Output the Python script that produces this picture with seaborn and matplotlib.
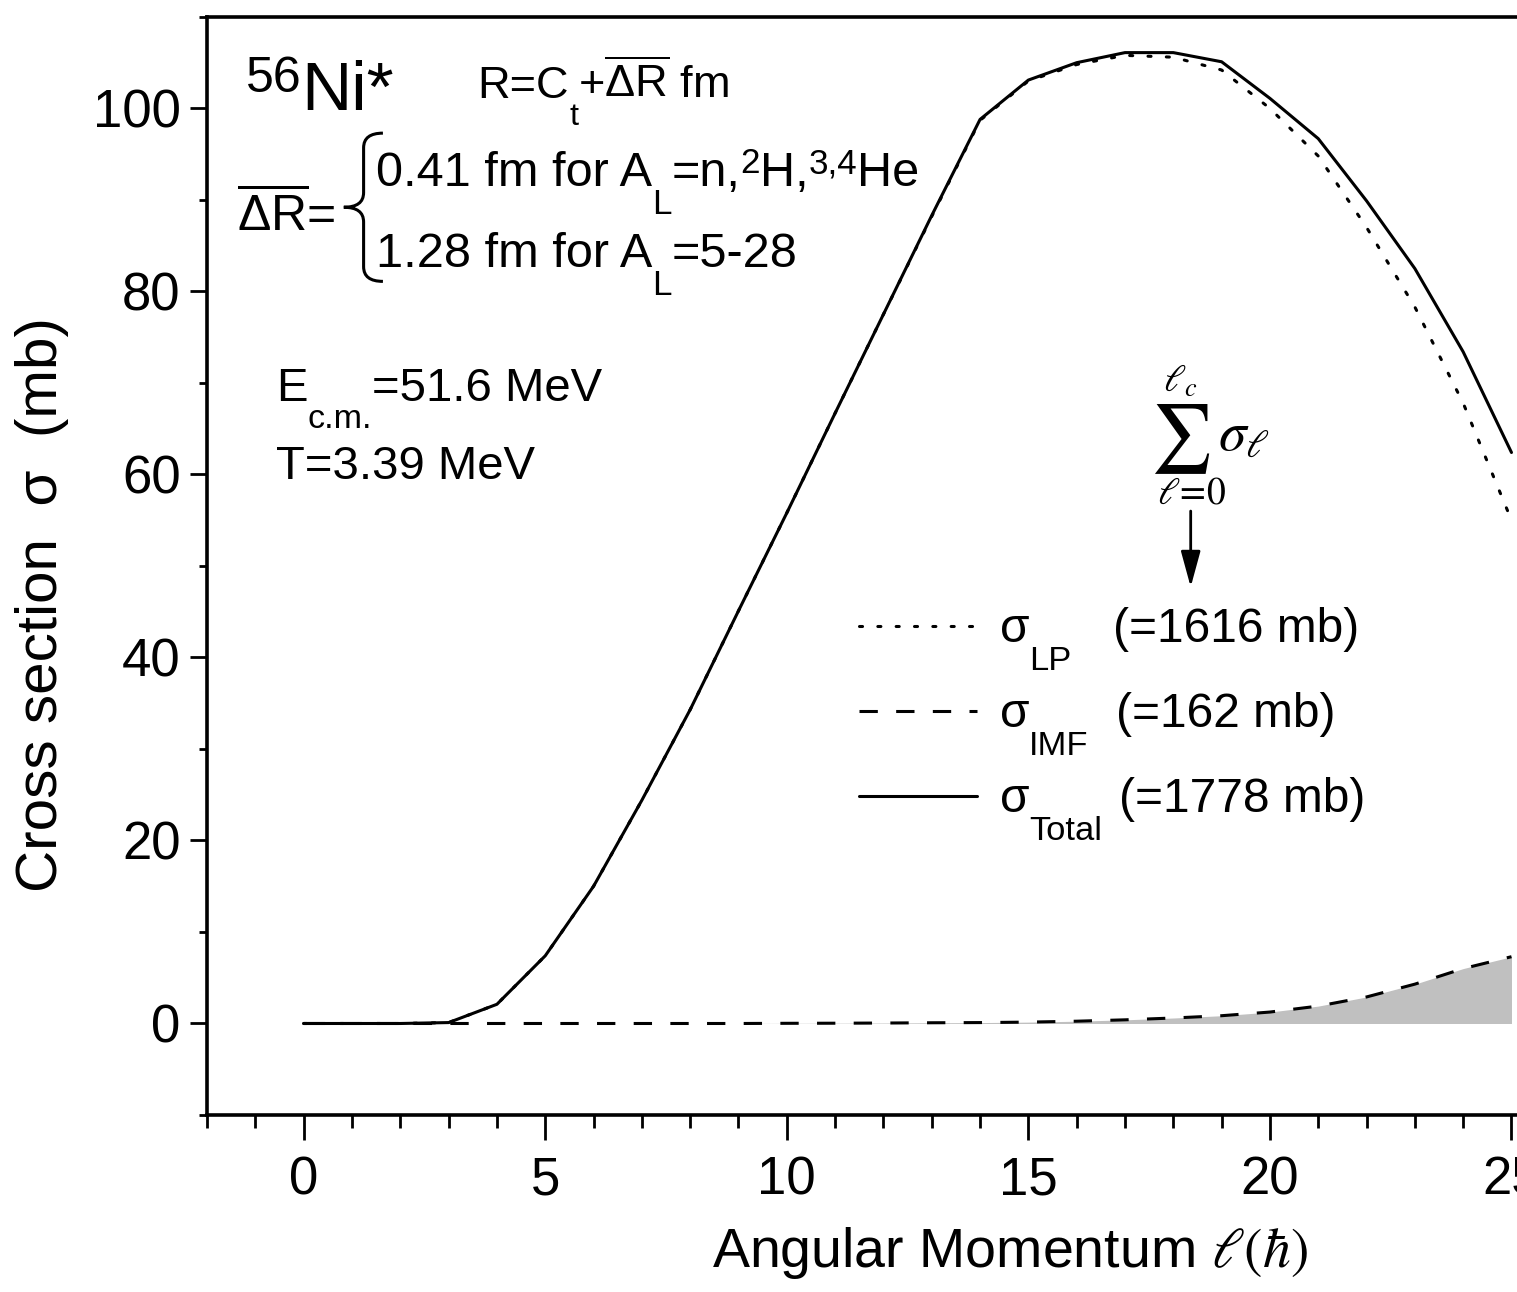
import matplotlib
matplotlib.use("Agg")
import matplotlib.pyplot as plt
from matplotlib.path import Path
from matplotlib.patches import PathPatch
import seaborn as sns

# angular momentum l (hbar)
ell = list(range(26))
# cross sections (mb)
sigma_total = [0, 0, 0, 0.1, 2.1, 7.4, 15.0, 24.4, 34.3, 45.1, 55.8, 66.7, 77.5, 88.3,
               98.8, 103.1, 105.0, 106.1, 106.1, 105.1, 101.1, 96.7, 89.9, 82.5, 73.4, 62.4]
sigma_lp = [0, 0, 0, 0.1, 2.1, 7.4, 15.0, 24.4, 34.3, 45.1, 55.8, 66.7, 77.5, 88.2,
            98.7, 103.0, 104.8, 105.8, 105.6, 104.2, 100.0, 94.8, 87.0, 78.3, 67.8, 55.0]
sigma_imf = [0, 0, 0, 0, 0, 0, 0, 0, 0, 0, 0.02, 0.03, 0.05, 0.08,
             0.1, 0.15, 0.25, 0.4, 0.6, 0.85, 1.25, 1.9, 2.9, 4.3, 6.0, 7.3]
series_subs = ["LP", "IMF", "Total"]
series_sums = ["(=1616 mb)", "(=162 mb)", "(=1778 mb)"]

sns.set_style("ticks")
plt.rcParams["font.family"] = ["Liberation Sans", "DejaVu Sans"]
plt.rcParams["mathtext.fontset"] = "custom"
plt.rcParams["mathtext.rm"] = "Liberation Sans"
plt.rcParams["mathtext.it"] = "Liberation Sans"
plt.rcParams["mathtext.sf"] = "Liberation Sans"
plt.rcParams["mathtext.bf"] = "Liberation Sans:bold"
for k in ["text.color", "axes.labelcolor", "xtick.color", "ytick.color", "axes.edgecolor"]:
    plt.rcParams[k] = "black"


def rich(ax, x, y, pieces, size):
    """Origin style text: pieces of (text, 'n'|'sub'|'sup') written one after another"""
    prev = None
    for s, kind in pieces:
        fs = size if kind == "n" else size * 0.72
        dy = {"n": 0, "sub": -0.58 * size, "sup": 0.27 * size}[kind]
        if prev is None:
            prev = ax.annotate(s, xy=(x, y), xycoords="data", xytext=(0, dy),
                               textcoords="offset points", fontsize=fs, va="baseline")
        else:
            prev = ax.annotate(s, xy=(1, y), xycoords=(prev, "data"), xytext=(0, dy),
                               textcoords="offset points", fontsize=fs, va="baseline")
    return prev


fig = plt.figure(figsize=(15.17, 12.92), dpi=100)
# axis runs past the right edge of the picture (the original is cropped)
ax = fig.add_axes([0.1365, 0.137, 1.0191, 0.8499])

ax.fill_between(ell, sigma_imf, 0, color="#c0c0c0", lw=0)
sns.lineplot(x=ell, y=sigma_lp, ax=ax, color="k", lw=2.2, linestyle=(0, (1, 5)),
             dash_capstyle="round")
sns.lineplot(x=ell, y=sigma_imf, ax=ax, color="k", lw=2.2, linestyle=(0, (6, 6)))
sns.lineplot(x=ell, y=sigma_total, ax=ax, color="k", lw=2.2)

# legend: handles from the library, labels written Origin style next to them
handles = ax.get_lines()[:3]
ax.legend(handles, [" "] * 3, loc="upper left", bbox_to_anchor=(11.49, 45.4),
          bbox_transform=ax.transData, frameon=False, borderpad=0, borderaxespad=0,
          handlelength=2.5, handletextpad=0.3, labelspacing=0.875, fontsize=34)
for i, (sub, tot) in enumerate(zip(series_subs, series_sums)):
    yb = 41.7 - 9.3 * i
    rich(ax, 14.41, yb, [("σ", "n"), (sub, "sub")], 34.5)
    ax.text(16.75 + 0.065 * i, yb, tot, fontsize=34.5, va="baseline")

ax.set_xlim(-2, 30)
ax.set_ylim(-10, 110)
ax.set_xticks([0, 5, 10, 15, 20, 25, 30])
ax.set_xticks(range(-2, 31), minor=True)
ax.set_yticks([0, 20, 40, 60, 80, 100])
ax.set_yticks([-10, 10, 30, 50, 70, 90, 110], minor=True)
ax.tick_params(axis="x", which="major", length=18, width=2, labelsize=38, pad=11)
ax.tick_params(axis="x", which="minor", length=9, width=2)
ax.tick_params(axis="y", which="major", length=12, width=2, labelsize=38, pad=7)
ax.tick_params(axis="y", which="minor", length=6, width=2)
for s in ax.spines.values():
    s.set_linewidth(2.6)

ax.set_xlabel(r"Angular Momentum $\ell(\hbar)$", fontsize=40, math_fontfamily="stix")
ax.xaxis.set_label_coords(0.519, -0.10)
ax.set_ylabel("Cross section  σ  (mb)", fontsize=42)
ax.yaxis.set_label_coords(-0.089, 0.4645)

# annotations
rich(ax, -1.2, 99.8, [("56", "sup"), ("Ni*", "n")], 50)
rich(ax, 3.6, 101.1, [("R=C", "n"), ("t", "sub"), (r"+$\overline{\Delta{\rm R}}$ fm", "n")], 32.5)
ax.text(-1.39, 86.7, r"$\overline{\Delta{\rm R}}$=", fontsize=36, va="baseline")
rich(ax, 1.49, 91.5, [("0.41 fm for A", "n"), ("L", "sub"), ("=n,", "n"), ("2", "sup"),
                      ("H,", "n"), ("3,4", "sup"), ("He", "n")], 35)
rich(ax, 1.49, 82.7, [("1.28 fm for A", "n"), ("L", "sub"), ("=5-28", "n")], 35)
rich(ax, -0.58, 68.05, [("E", "n"), ("c.m.", "sub"), ("=51.6 MeV", "n")], 34)
ax.text(-0.58, 59.5, "T=3.39 MeV", fontsize=34, va="baseline")

# curly brace
x0, x1, xm = 0.83, 1.64, 1.24
ytop, ybot = 97.3, 81.1
ymid = (ytop + ybot) / 2
r = 1.6
verts = [(x1, ytop), (xm, ytop), (xm, ytop - r), (xm, ymid + r), (xm, ymid), (x0, ymid),
         (xm, ymid), (xm, ymid - r), (xm, ybot + r), (xm, ybot), (x1, ybot)]
codes = [Path.MOVETO, Path.CURVE3, Path.CURVE3, Path.LINETO, Path.CURVE3, Path.CURVE3,
         Path.CURVE3, Path.CURVE3, Path.LINETO, Path.CURVE3, Path.CURVE3]
ax.add_patch(PathPatch(Path(verts, codes), fill=False, lw=2.2, color="k"))

# sum formula and arrow
ax.text(18.15, 63.9, r"$\sum$", fontsize=49, ha="center", va="center", math_fontfamily="stix")
ax.text(18.15, 69.0, r"$\ell_c$", fontsize=27, ha="center", va="baseline", math_fontfamily="stix")
ax.text(18.38, 56.8, r"$\ell\!=\!0$", fontsize=27, ha="center", va="baseline",
        math_fontfamily="stix")
ax.text(18.92, 62.6, r"$\sigma_{\ell}$", fontsize=40, va="baseline", math_fontfamily="stix")
ax.annotate("", xy=(18.36, 47.7), xytext=(18.36, 56.0),
            arrowprops=dict(arrowstyle="-|>,head_length=1.1,head_width=0.3",
                            mutation_scale=20, lw=2, color="k", shrinkA=0, shrinkB=0))

fig.savefig("out.png", dpi=100)
